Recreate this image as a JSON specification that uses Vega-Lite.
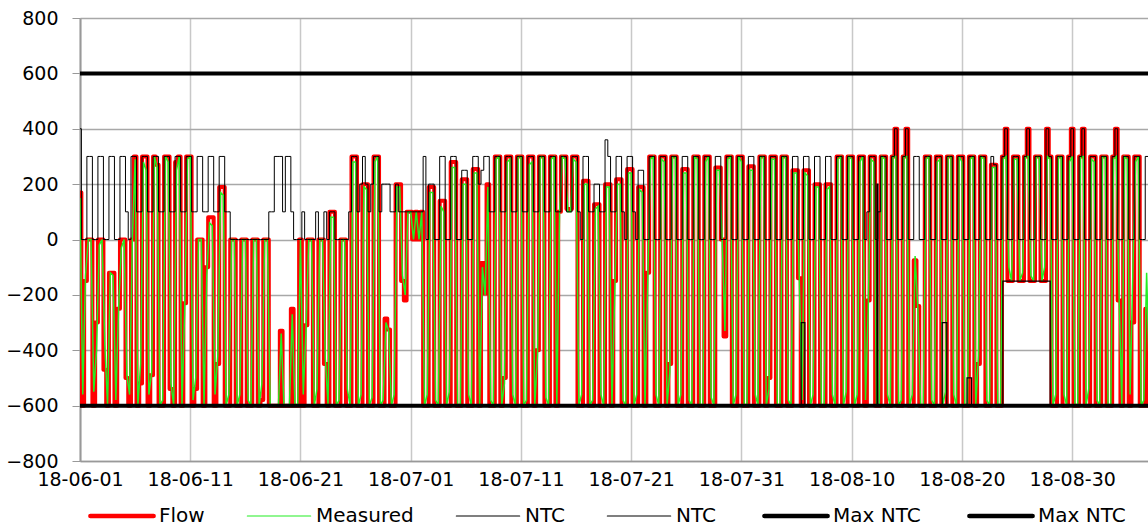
{
"$schema": "https://vega.github.io/schema/vega-lite/v6.json",
"width": 1068, "height": 443,
"autosize": {"type": "none"},
"padding": {"left": 80, "top": 18, "right": 0, "bottom": 65},
"config": {"font": "DejaVu Sans", "view": {"stroke": null},
 "axis": {"labelFont": "DejaVu Sans", "labelFontSize": 19, "labelColor": "#000", "title": null}},
"data": {"format": {"parse": {"t": "date:'%y%m%d%H'"}}, "values": [
{"t":"18060100","f":170,"m":150,"n":400},{"t":"18060106","f":-600,"m":-560,"n":0},{"t":"18060112","f":-150,"m":-130,"n":0},{"t":"18060118","f":0,"m":0,"n":300},
{"t":"18060200","f":0,"m":0,"n":300},{"t":"18060206","f":-600,"m":-550,"n":0},{"t":"18060212","f":-300,"m":-400,"n":0},{"t":"18060218","f":0,"m":-20,"n":300},
{"t":"18060300","f":0,"m":0,"n":300},{"t":"18060306","f":-470,"m":-380,"n":0},{"t":"18060312","f":-600,"m":-600,"n":0},{"t":"18060318","f":-120,"m":-120,"n":300},
{"t":"18060400","f":-120,"m":-130,"n":300},{"t":"18060406","f":-600,"m":-580,"n":0},{"t":"18060412","f":-250,"m":-250,"n":0},{"t":"18060418","f":0,"m":-30,"n":300},
{"t":"18060500","f":0,"m":0,"n":300},{"t":"18060506","f":-500,"m":-490,"n":100},{"t":"18060512","f":-600,"m":-560,"n":0},{"t":"18060518","f":0,"m":0,"n":300},
{"t":"18060600","f":300,"m":290,"n":300},{"t":"18060606","f":-600,"m":-600,"n":100},{"t":"18060612","f":-520,"m":-450,"n":100},{"t":"18060618","f":300,"m":280,"n":300},
{"t":"18060700","f":300,"m":250,"n":300},{"t":"18060706","f":-600,"m":-560,"n":100},{"t":"18060712","f":-490,"m":-480,"n":100},{"t":"18060718","f":300,"m":300,"n":300},
{"t":"18060800","f":270,"m":260,"n":300},{"t":"18060806","f":-600,"m":-600,"n":100},{"t":"18060812","f":-600,"m":-580,"n":100},{"t":"18060818","f":300,"m":300,"n":300},
{"t":"18060900","f":300,"m":280,"n":300},{"t":"18060906","f":-540,"m":-520,"n":100},{"t":"18060912","f":-600,"m":-600,"n":100},{"t":"18060918","f":280,"m":250,"n":300},
{"t":"18061000","f":300,"m":300,"n":300},{"t":"18061006","f":-600,"m":-600,"n":100},{"t":"18061012","f":-230,"m":-250,"n":100},{"t":"18061018","f":300,"m":290,"n":300},
{"t":"18061100","f":300,"m":300,"n":300},{"t":"18061106","f":-600,"m":-580,"n":100},{"t":"18061112","f":-540,"m":-500,"n":100},{"t":"18061118","f":0,"m":0,"n":300},
{"t":"18061200","f":0,"m":0,"n":300},{"t":"18061206","f":-600,"m":-600,"n":100},{"t":"18061212","f":-100,"m":-130,"n":100},{"t":"18061218","f":80,"m":60,"n":300},
{"t":"18061300","f":80,"m":50,"n":300},{"t":"18061306","f":-600,"m":-560,"n":100},{"t":"18061312","f":-450,"m":-420,"n":100},{"t":"18061318","f":190,"m":170,"n":300},
{"t":"18061400","f":190,"m":160,"n":300},{"t":"18061406","f":-600,"m":-600,"n":100},{"t":"18061412","f":-600,"m":-560,"n":100},{"t":"18061418","f":0,"m":0,"n":0},
{"t":"18061500","f":0,"m":0,"n":0},{"t":"18061506","f":-600,"m":-600,"n":0},{"t":"18061512","f":-600,"m":-560,"n":0},{"t":"18061518","f":0,"m":0,"n":0},
{"t":"18061600","f":0,"m":0,"n":0},{"t":"18061606","f":-600,"m":-580,"n":0},{"t":"18061612","f":-600,"m":-600,"n":0},{"t":"18061618","f":0,"m":0,"n":0},
{"t":"18061700","f":0,"m":0,"n":0},{"t":"18061706","f":-600,"m":-600,"n":0},{"t":"18061712","f":-580,"m":-520,"n":0},{"t":"18061718","f":0,"m":0,"n":0},
{"t":"18061800","f":0,"m":0,"n":0},{"t":"18061806","f":-600,"m":-600,"n":100},{"t":"18061812","f":-600,"m":-600,"n":100},{"t":"18061818","f":-600,"m":-600,"n":300},
{"t":"18061900","f":-600,"m":-600,"n":300},{"t":"18061906","f":-330,"m":-340,"n":300},{"t":"18061912","f":-600,"m":-600,"n":100},{"t":"18061918","f":-600,"m":-600,"n":300},
{"t":"18062000","f":-600,"m":-600,"n":300},{"t":"18062006","f":-250,"m":-270,"n":100},{"t":"18062012","f":-600,"m":-600,"n":0},{"t":"18062018","f":-600,"m":-600,"n":0},
{"t":"18062100","f":0,"m":0,"n":0},{"t":"18062106","f":-600,"m":-560,"n":100},{"t":"18062112","f":-310,"m":-330,"n":0},{"t":"18062118","f":0,"m":0,"n":0},
{"t":"18062200","f":0,"m":0,"n":0},{"t":"18062206","f":-600,"m":-600,"n":0},{"t":"18062212","f":-600,"m":-540,"n":100},{"t":"18062218","f":0,"m":0,"n":0},
{"t":"18062300","f":0,"m":0,"n":0},{"t":"18062306","f":-450,"m":-430,"n":100},{"t":"18062312","f":-600,"m":-600,"n":0},{"t":"18062318","f":100,"m":80,"n":100},
{"t":"18062400","f":100,"m":80,"n":100},{"t":"18062406","f":-600,"m":-600,"n":0},{"t":"18062412","f":-600,"m":-580,"n":0},{"t":"18062418","f":0,"m":0,"n":0},
{"t":"18062500","f":0,"m":0,"n":0},{"t":"18062506","f":-600,"m":-540,"n":0},{"t":"18062512","f":-600,"m":-600,"n":100},{"t":"18062518","f":300,"m":280,"n":300},
{"t":"18062600","f":300,"m":280,"n":300},{"t":"18062606","f":-600,"m":-600,"n":100},{"t":"18062612","f":-600,"m":-560,"n":200},{"t":"18062618","f":200,"m":190,"n":300},
{"t":"18062700","f":200,"m":180,"n":200},{"t":"18062706","f":-600,"m":-600,"n":100},{"t":"18062712","f":-600,"m":-570,"n":200},{"t":"18062718","f":300,"m":280,"n":300},
{"t":"18062800","f":300,"m":300,"n":300},{"t":"18062806","f":-600,"m":-600,"n":100},{"t":"18062812","f":-600,"m":-580,"n":200},{"t":"18062818","f":-285,"m":-300,"n":200},
{"t":"18062900","f":-325,"m":-330,"n":200},{"t":"18062906","f":-600,"m":-600,"n":100},{"t":"18062912","f":-600,"m":-560,"n":100},{"t":"18062918","f":200,"m":190,"n":200},
{"t":"18063000","f":200,"m":190,"n":100},{"t":"18063006","f":-150,"m":-130,"n":100},{"t":"18063012","f":-220,"m":-200,"n":100},{"t":"18063018","f":100,"m":100,"n":100},
{"t":"18070100","f":100,"m":100,"n":100},{"t":"18070106","f":0,"m":0,"n":100},{"t":"18070112","f":100,"m":100,"n":100},{"t":"18070118","f":0,"m":0,"n":100},
{"t":"18070200","f":100,"m":100,"n":100},{"t":"18070206","f":-600,"m":-600,"n":300},{"t":"18070212","f":-600,"m":-560,"n":0},{"t":"18070218","f":190,"m":170,"n":200},
{"t":"18070300","f":190,"m":170,"n":200},{"t":"18070306","f":-600,"m":-580,"n":0},{"t":"18070312","f":-600,"m":-600,"n":0},{"t":"18070318","f":140,"m":120,"n":300},
{"t":"18070400","f":140,"m":100,"n":300},{"t":"18070406","f":-600,"m":-600,"n":0},{"t":"18070412","f":-600,"m":-550,"n":0},{"t":"18070418","f":280,"m":260,"n":300},
{"t":"18070500","f":280,"m":260,"n":300},{"t":"18070506","f":-600,"m":-600,"n":0},{"t":"18070512","f":-600,"m":-600,"n":0},{"t":"18070518","f":218,"m":200,"n":250},
{"t":"18070600","f":218,"m":200,"n":250},{"t":"18070606","f":-600,"m":-560,"n":0},{"t":"18070612","f":-600,"m":-600,"n":0},{"t":"18070618","f":255,"m":240,"n":300},
{"t":"18070700","f":255,"m":240,"n":300},{"t":"18070706","f":-600,"m":-600,"n":200},{"t":"18070712","f":-85,"m":-100,"n":250},{"t":"18070718","f":-195,"m":-200,"n":300},
{"t":"18070800","f":200,"m":190,"n":300},{"t":"18070806","f":-600,"m":-580,"n":100},{"t":"18070812","f":-600,"m":-600,"n":100},{"t":"18070818","f":300,"m":290,"n":300},
{"t":"18070900","f":300,"m":300,"n":300},{"t":"18070906","f":-600,"m":-600,"n":100},{"t":"18070912","f":-500,"m":-520,"n":100},{"t":"18070918","f":300,"m":280,"n":300},
{"t":"18071000","f":300,"m":290,"n":300},{"t":"18071006","f":-600,"m":-560,"n":100},{"t":"18071012","f":-600,"m":-600,"n":100},{"t":"18071018","f":300,"m":300,"n":300},
{"t":"18071100","f":300,"m":300,"n":300},{"t":"18071106","f":-600,"m":-600,"n":100},{"t":"18071112","f":-600,"m":-580,"n":100},{"t":"18071118","f":300,"m":270,"n":300},
{"t":"18071200","f":300,"m":280,"n":300},{"t":"18071206","f":-600,"m":-600,"n":100},{"t":"18071212","f":-400,"m":-420,"n":100},{"t":"18071218","f":300,"m":300,"n":300},
{"t":"18071300","f":300,"m":300,"n":300},{"t":"18071306","f":-600,"m":-570,"n":100},{"t":"18071312","f":-600,"m":-600,"n":100},{"t":"18071318","f":300,"m":290,"n":300},
{"t":"18071400","f":300,"m":300,"n":300},{"t":"18071406","f":-600,"m":-600,"n":100},{"t":"18071412","f":100,"m":100,"n":100},{"t":"18071418","f":300,"m":300,"n":300},
{"t":"18071500","f":300,"m":290,"n":300},{"t":"18071506","f":110,"m":100,"n":100},{"t":"18071512","f":110,"m":100,"n":100},{"t":"18071518","f":300,"m":290,"n":300},
{"t":"18071600","f":300,"m":280,"n":300},{"t":"18071606","f":-600,"m":-600,"n":100},{"t":"18071612","f":-600,"m":-560,"n":0},{"t":"18071618","f":212,"m":200,"n":300},
{"t":"18071700","f":212,"m":200,"n":300},{"t":"18071706","f":-600,"m":-600,"n":100},{"t":"18071712","f":-600,"m":-580,"n":100},{"t":"18071718","f":127,"m":110,"n":200},
{"t":"18071800","f":127,"m":120,"n":200},{"t":"18071806","f":-600,"m":-560,"n":100},{"t":"18071812","f":-600,"m":-600,"n":100},{"t":"18071818","f":200,"m":190,"n":360},
{"t":"18071900","f":200,"m":190,"n":300},{"t":"18071906","f":-600,"m":-600,"n":100},{"t":"18071912","f":-150,"m":-200,"n":100},{"t":"18071918","f":218,"m":200,"n":300},
{"t":"18072000","f":218,"m":200,"n":300},{"t":"18072006","f":-600,"m":-580,"n":100},{"t":"18072012","f":-600,"m":-600,"n":0},{"t":"18072018","f":255,"m":240,"n":300},
{"t":"18072100","f":255,"m":240,"n":300},{"t":"18072106","f":-600,"m":-600,"n":100},{"t":"18072112","f":-600,"m":-560,"n":0},{"t":"18072118","f":190,"m":180,"n":250},
{"t":"18072200","f":190,"m":170,"n":250},{"t":"18072206","f":-600,"m":-600,"n":0},{"t":"18072212","f":-120,"m":-150,"n":0},{"t":"18072218","f":300,"m":290,"n":300},
{"t":"18072300","f":300,"m":300,"n":300},{"t":"18072306","f":-600,"m":-560,"n":0},{"t":"18072312","f":-600,"m":-600,"n":0},{"t":"18072318","f":300,"m":290,"n":300},
{"t":"18072400","f":300,"m":280,"n":300},{"t":"18072406","f":-600,"m":-600,"n":0},{"t":"18072412","f":-450,"m":-480,"n":0},{"t":"18072418","f":300,"m":300,"n":300},
{"t":"18072500","f":300,"m":300,"n":300},{"t":"18072506","f":-600,"m":-600,"n":0},{"t":"18072512","f":-600,"m":-560,"n":0},{"t":"18072518","f":255,"m":240,"n":300},
{"t":"18072600","f":255,"m":240,"n":300},{"t":"18072606","f":-600,"m":-580,"n":0},{"t":"18072612","f":-600,"m":-600,"n":0},{"t":"18072618","f":300,"m":300,"n":300},
{"t":"18072700","f":300,"m":290,"n":300},{"t":"18072706","f":-600,"m":-600,"n":0},{"t":"18072712","f":-600,"m":-600,"n":0},{"t":"18072718","f":300,"m":280,"n":300},
{"t":"18072800","f":300,"m":300,"n":300},{"t":"18072806","f":-600,"m":-570,"n":0},{"t":"18072812","f":-600,"m":-600,"n":0},{"t":"18072818","f":260,"m":250,"n":300},
{"t":"18072900","f":260,"m":250,"n":300},{"t":"18072906","f":0,"m":0,"n":0},{"t":"18072912","f":-350,"m":-330,"n":0},{"t":"18072918","f":300,"m":290,"n":300},
{"t":"18073000","f":300,"m":300,"n":300},{"t":"18073006","f":-600,"m":-600,"n":0},{"t":"18073012","f":-600,"m":-560,"n":0},{"t":"18073018","f":300,"m":300,"n":300},
{"t":"18073100","f":300,"m":280,"n":300},{"t":"18073106","f":-600,"m":-600,"n":0},{"t":"18073112","f":-600,"m":-600,"n":0},{"t":"18073118","f":265,"m":250,"n":300},
{"t":"18080100","f":265,"m":250,"n":300},{"t":"18080106","f":-600,"m":-560,"n":0},{"t":"18080112","f":-600,"m":-600,"n":0},{"t":"18080118","f":300,"m":300,"n":300},
{"t":"18080200","f":300,"m":300,"n":300},{"t":"18080206","f":-600,"m":-600,"n":0},{"t":"18080212","f":-500,"m":-540,"n":0},{"t":"18080218","f":300,"m":290,"n":300},
{"t":"18080300","f":300,"m":290,"n":300},{"t":"18080306","f":-600,"m":-600,"n":0},{"t":"18080312","f":-600,"m":-600,"n":0},{"t":"18080318","f":300,"m":300,"n":300},
{"t":"18080400","f":300,"m":300,"n":300},{"t":"18080406","f":-600,"m":-580,"n":0},{"t":"18080412","f":-600,"m":-600,"n":0},{"t":"18080418","f":250,"m":240,"n":300},
{"t":"18080500","f":250,"m":240,"n":300},{"t":"18080506","f":-140,"m":-150,"n":0},{"t":"18080512","f":-600,"m":-580,"n":0},{"t":"18080518","f":250,"m":240,"n":300},
{"t":"18080600","f":250,"m":230,"n":300},{"t":"18080606","f":-600,"m":-600,"n":0},{"t":"18080612","f":-600,"m":-560,"n":0},{"t":"18080618","f":200,"m":190,"n":300},
{"t":"18080700","f":200,"m":190,"n":300},{"t":"18080706","f":-600,"m":-600,"n":0},{"t":"18080712","f":-600,"m":-600,"n":0},{"t":"18080718","f":200,"m":180,"n":300},
{"t":"18080800","f":200,"m":190,"n":300},{"t":"18080806","f":-600,"m":-560,"n":0},{"t":"18080812","f":-600,"m":-600,"n":0},{"t":"18080818","f":300,"m":290,"n":300},
{"t":"18080900","f":300,"m":300,"n":300},{"t":"18080906","f":-600,"m":-600,"n":0},{"t":"18080912","f":-600,"m":-550,"n":0},{"t":"18080918","f":300,"m":300,"n":300},
{"t":"18081000","f":300,"m":290,"n":300},{"t":"18081006","f":-600,"m":-600,"n":0},{"t":"18081012","f":-600,"m":-560,"n":0},{"t":"18081018","f":300,"m":280,"n":300},
{"t":"18081100","f":300,"m":300,"n":300},{"t":"18081106","f":-600,"m":-580,"n":0},{"t":"18081112","f":-220,"m":-250,"n":100},{"t":"18081118","f":300,"m":290,"n":300},
{"t":"18081200","f":300,"m":280,"n":300},{"t":"18081206","f":-600,"m":-600,"n":0},{"t":"18081212","f":-600,"m":-600,"n":100},{"t":"18081218","f":300,"m":300,"n":300},
{"t":"18081300","f":300,"m":290,"n":300},{"t":"18081306","f":-600,"m":-560,"n":0},{"t":"18081312","f":-600,"m":-600,"n":0},{"t":"18081318","f":300,"m":300,"n":300},
{"t":"18081400","f":400,"m":300,"n":400},{"t":"18081406","f":-600,"m":-600,"n":0},{"t":"18081412","f":-600,"m":-580,"n":0},{"t":"18081418","f":300,"m":300,"n":300},
{"t":"18081500","f":400,"m":300,"n":400},{"t":"18081506","f":-600,"m":-600,"n":0},{"t":"18081512","f":-600,"m":-560,"n":0},{"t":"18081518","f":-75,"m":-60,"n":300},
{"t":"18081600","f":-240,"m":-250,"n":300},{"t":"18081606","f":-600,"m":-600,"n":0},{"t":"18081612","f":-600,"m":-600,"n":0},{"t":"18081618","f":300,"m":290,"n":300},
{"t":"18081700","f":300,"m":300,"n":300},{"t":"18081706","f":-600,"m":-580,"n":0},{"t":"18081712","f":-600,"m":-600,"n":0},{"t":"18081718","f":300,"m":280,"n":300},
{"t":"18081800","f":300,"m":290,"n":300},{"t":"18081806","f":-600,"m":-600,"n":0},{"t":"18081812","f":-600,"m":-550,"n":0},{"t":"18081818","f":300,"m":300,"n":300},
{"t":"18081900","f":300,"m":300,"n":300},{"t":"18081906","f":-600,"m":-560,"n":0},{"t":"18081912","f":-600,"m":-600,"n":0},{"t":"18081918","f":300,"m":300,"n":300},
{"t":"18082000","f":300,"m":280,"n":300},{"t":"18082006","f":-600,"m":-600,"n":0},{"t":"18082012","f":-600,"m":-600,"n":0},{"t":"18082018","f":300,"m":290,"n":300},
{"t":"18082100","f":300,"m":300,"n":300},{"t":"18082106","f":-600,"m":-600,"n":0},{"t":"18082112","f":-450,"m":-420,"n":0},{"t":"18082118","f":300,"m":300,"n":300},
{"t":"18082200","f":300,"m":290,"n":300},{"t":"18082206","f":-600,"m":-580,"n":0},{"t":"18082212","f":-600,"m":-600,"n":0},{"t":"18082218","f":270,"m":260,"n":300},
{"t":"18082300","f":270,"m":260,"n":270},{"t":"18082306","f":-600,"m":-600,"n":0},{"t":"18082312","f":-600,"m":-600,"n":0},{"t":"18082318","f":300,"m":290,"n":300},
{"t":"18082400","f":400,"m":300,"n":400},{"t":"18082406","f":-150,"m":-100,"n":0},{"t":"18082412","f":-150,"m":-150,"n":0},{"t":"18082418","f":300,"m":290,"n":300},
{"t":"18082500","f":300,"m":290,"n":300},{"t":"18082506","f":-150,"m":-150,"n":0},{"t":"18082512","f":-150,"m":-120,"n":0},{"t":"18082518","f":300,"m":300,"n":300},
{"t":"18082600","f":400,"m":300,"n":400},{"t":"18082606","f":-150,"m":-130,"n":0},{"t":"18082612","f":-150,"m":-150,"n":0},{"t":"18082618","f":300,"m":300,"n":300},
{"t":"18082700","f":300,"m":300,"n":300},{"t":"18082706","f":-150,"m":-150,"n":0},{"t":"18082712","f":-150,"m":-100,"n":0},{"t":"18082718","f":400,"m":300,"n":400},
{"t":"18082800","f":300,"m":290,"n":300},{"t":"18082806","f":-600,"m":-600,"n":0},{"t":"18082812","f":-600,"m":-560,"n":0},{"t":"18082818","f":300,"m":300,"n":300},
{"t":"18082900","f":300,"m":300,"n":300},{"t":"18082906","f":-600,"m":-560,"n":0},{"t":"18082912","f":-600,"m":-600,"n":0},{"t":"18082918","f":300,"m":280,"n":300},
{"t":"18083000","f":400,"m":300,"n":400},{"t":"18083006","f":-600,"m":-600,"n":0},{"t":"18083012","f":-600,"m":-600,"n":0},{"t":"18083018","f":300,"m":300,"n":300},
{"t":"18083100","f":400,"m":300,"n":400},{"t":"18083106","f":-600,"m":-600,"n":0},{"t":"18083112","f":-600,"m":-540,"n":0},{"t":"18083118","f":300,"m":290,"n":300},
{"t":"18090100","f":300,"m":280,"n":300},{"t":"18090106","f":-600,"m":-580,"n":0},{"t":"18090112","f":-600,"m":-600,"n":0},{"t":"18090118","f":300,"m":300,"n":300},
{"t":"18090200","f":300,"m":300,"n":300},{"t":"18090206","f":-600,"m":-600,"n":0},{"t":"18090212","f":-600,"m":-600,"n":0},{"t":"18090218","f":300,"m":290,"n":300},
{"t":"18090300","f":400,"m":300,"n":400},{"t":"18090306","f":-220,"m":-200,"n":0},{"t":"18090312","f":-600,"m":-600,"n":0},{"t":"18090318","f":300,"m":300,"n":300},
{"t":"18090400","f":300,"m":290,"n":300},{"t":"18090406","f":-600,"m":-560,"n":0},{"t":"18090412","f":-300,"m":-120,"n":0},{"t":"18090418","f":300,"m":280,"n":300},
{"t":"18090500","f":300,"m":300,"n":300},{"t":"18090506","f":-600,"m":-600,"n":0},{"t":"18090512","f":-600,"m":-580,"n":0},{"t":"18090518","f":-250,"m":-120,"n":300},
{"t":"18090600","f":-600,"m":-500,"n":300}
]},
"layer": [
 {"mark": {"type": "line", "clip": true, "strokeWidth": 4, "strokeJoin": "round", "strokeCap": "round", "interpolate": "step"},
  "encoding": {
   "x": {"field": "t", "type": "temporal",
     "scale": {"domain": [{"year": 2018, "month": 6, "date": 1}, {"year": 2018, "month": 9, "date": 5, "hours": 21}]},
     "axis": {"title": null, "format": "%y-%m-%d", "values": [{"year":2018,"month":6,"date":1},{"year":2018,"month":6,"date":11},{"year":2018,"month":6,"date":21},{"year":2018,"month":7,"date":1},{"year":2018,"month":7,"date":11},{"year":2018,"month":7,"date":21},{"year":2018,"month":7,"date":31},{"year":2018,"month":8,"date":10},{"year":2018,"month":8,"date":20},{"year":2018,"month":8,"date":30}],
       "grid": true, "gridColor": "#c8c8c8", "gridWidth": 1.5, "ticks": false, "labelPadding": 9, "domainColor": "#999999", "domainWidth": 1.5, "labelFlush": false, "labelOverlap": false}},
   "y": {"field": "f", "type": "quantitative", "scale": {"domain": [-800, 800], "nice": false},
     "axis": {"title": null, "values": [-800,-600,-400,-200,0,200,400,600,800], "grid": true, "gridColor": "#a8a8a8", "gridWidth": 1.5, "tickSize": 8, "tickColor": "#999999", "labelPadding": 14, "domainColor": "#999999", "domainWidth": 2}},
   "color": {"datum": "Flow", "type": "nominal", "title": null,
     "scale": {"domain": ["Flow", "Measured", "NTC1", "NTC2", "Max1", "Max2"], "range": ["#ff0000", "#22ee22", "#000000", "#000000", "#000000", "#000000"]},
     "legend": {"orient": "none", "legendX": 10, "legendY": 488, "direction": "horizontal", "title": null,
       "symbolType": "stroke", "symbolSize": 4000, "symbolOffset": 22, "labelFont": "DejaVu Sans", "labelFontSize": 20, "labelColor": "#000",
       "columnPadding": 39, "labelOffset": 27, "labelLimit": 300,
       "labelExpr": "datum.label == 'Flow' || datum.label == 'Measured' ? datum.label : (indexof(datum.label, 'Max') == 0 ? 'Max NTC' : 'NTC')",
       "encode": {"symbols": {"update": {"strokeWidth": {"signal": "datum.value == 'Flow' || datum.value == 'Max1' || datum.value == 'Max2' ? 4.5 : 1.2"}, "strokeCap": {"value": "round"}}}}}}
  }},
 {"mark": {"type": "line", "clip": true, "strokeWidth": 1.5},
  "encoding": {"x": {"field": "t", "type": "temporal"}, "y": {"field": "m", "type": "quantitative", "title": null}, "color": {"datum": "Measured", "type": "nominal", "title": null}}},
 {"mark": {"type": "line", "clip": true, "strokeWidth": 1, "interpolate": "step"},
  "encoding": {"x": {"field": "t", "type": "temporal"}, "y": {"field": "n", "type": "quantitative", "title": null}, "color": {"datum": "NTC1", "type": "nominal", "title": null}}},
 {"data": {"format": {"parse": {"t": "date:'%y%m%d%H'"}}, "values": [
   {"t":"18060100","v":-600},{"t":"18080510","v":-300},{"t":"18080518","v":-600},{"t":"18081207","v":200},{"t":"18081209","v":-600},
   {"t":"18081805","v":-300},{"t":"18081815","v":-600},{"t":"18082011","v":-500},{"t":"18082021","v":-600},{"t":"18082317","v":-150},
   {"t":"18082800","v":-600},{"t":"18090700","v":-600}]},
  "mark": {"type": "line", "clip": true, "strokeWidth": 1.2, "interpolate": "step-after"},
  "encoding": {"x": {"field": "t", "type": "temporal"}, "y": {"field": "v", "type": "quantitative", "title": null}, "color": {"datum": "NTC2", "type": "nominal", "title": null}}},
 {"data": {"format": {"parse": {"t": "date:'%y%m%d%H'"}}, "values": [
   {"t":"18060100","v":600,"s":"Max1"},{"t":"18090700","v":600,"s":"Max1"},
   {"t":"18060100","v":-600,"s":"Max2"},{"t":"18090700","v":-600,"s":"Max2"}]},
  "mark": {"type": "line", "clip": true, "strokeWidth": 4},
  "encoding": {"x": {"field": "t", "type": "temporal"}, "y": {"field": "v", "type": "quantitative", "title": null}, "color": {"field": "s", "type": "nominal", "title": null}}}
]
}
